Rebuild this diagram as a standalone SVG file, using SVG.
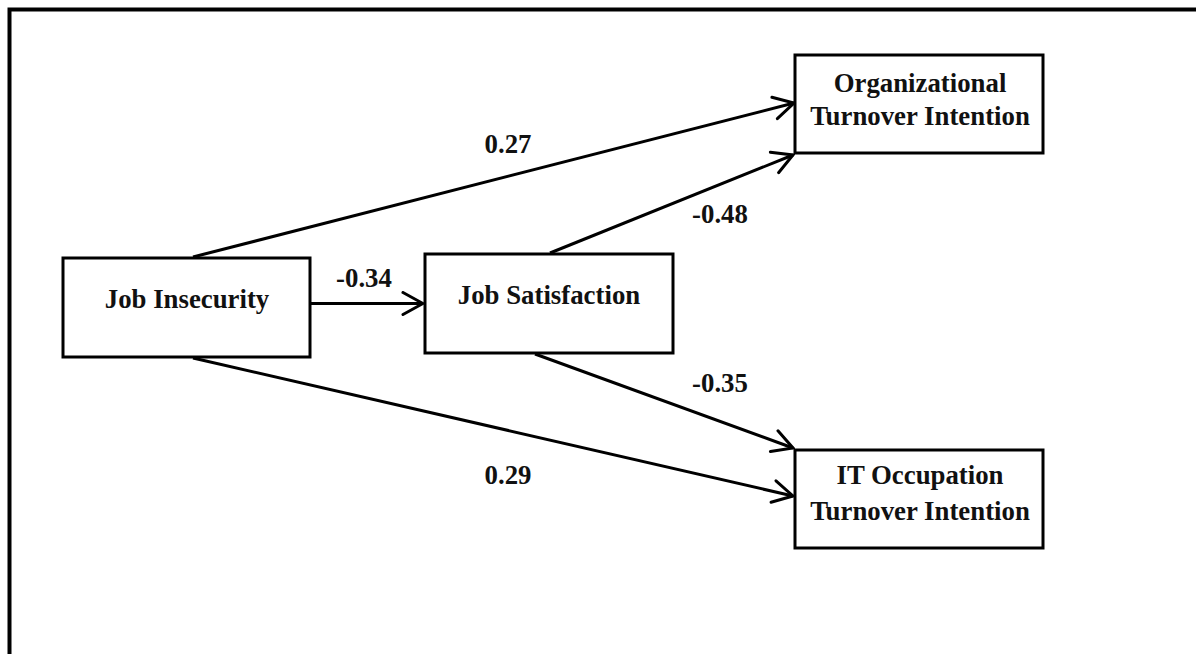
<svg xmlns="http://www.w3.org/2000/svg" width="1196" height="654" viewBox="0 0 1196 654">
<style>
.box{fill:#fff;stroke:#000;stroke-width:3}
.t{font-family:"Liberation Serif","Times New Roman",serif;font-weight:bold;font-size:26.8px;fill:#111;text-anchor:middle}
.c{fill:none;stroke:#000;stroke-width:3}
</style>
<defs>
<marker id="arr" viewBox="-22 -13 24 26" refX="0" refY="0" markerWidth="24" markerHeight="26" markerUnits="userSpaceOnUse" orient="auto">
<path d="M-20,-11 L0,0 L-20,11" fill="none" stroke="#000" stroke-width="3" stroke-linecap="round" stroke-linejoin="miter"/>
</marker>
</defs>
<rect width="1196" height="654" fill="#fff"/>
<rect x="9.5" y="9.5" width="1200" height="700" fill="none" stroke="#000" stroke-width="4"/>
<g id="connectors">
<line class="c" x1="193" y1="257" x2="794" y2="103" marker-end="url(#arr)"/>
<line class="c" x1="550" y1="253" x2="793" y2="155" marker-end="url(#arr)"/>
<line class="c" x1="311" y1="303.5" x2="423" y2="303.5" marker-end="url(#arr)"/>
<line class="c" x1="535" y1="354" x2="793" y2="448" marker-end="url(#arr)"/>
<line class="c" x1="193" y1="358" x2="793" y2="496" marker-end="url(#arr)"/>
</g>
<g id="labels">
<text class="t" x="508" y="153">0.27</text>
<text class="t" x="720" y="223">-0.48</text>
<text class="t" x="364" y="287">-0.34</text>
<text class="t" x="720" y="392">-0.35</text>
<text class="t" x="508" y="484">0.29</text>
</g>
<g id="job-insecurity">
<rect class="box" x="63" y="258" width="247" height="99"/>
<text class="t" x="187" y="308">Job Insecurity</text>
</g>
<g id="job-satisfaction">
<rect class="box" x="425" y="254" width="248" height="99"/>
<text class="t" x="549" y="304">Job Satisfaction</text>
</g>
<g id="org-turnover">
<rect class="box" x="795" y="55" width="248" height="98"/>
<text class="t" x="920" y="92">Organizational</text>
<text class="t" x="920" y="125">Turnover Intention</text>
</g>
<g id="it-turnover">
<rect class="box" x="795" y="450" width="248" height="98"/>
<text class="t" x="920" y="484">IT Occupation</text>
<text class="t" x="920" y="520">Turnover Intention</text>
</g>
</svg>
